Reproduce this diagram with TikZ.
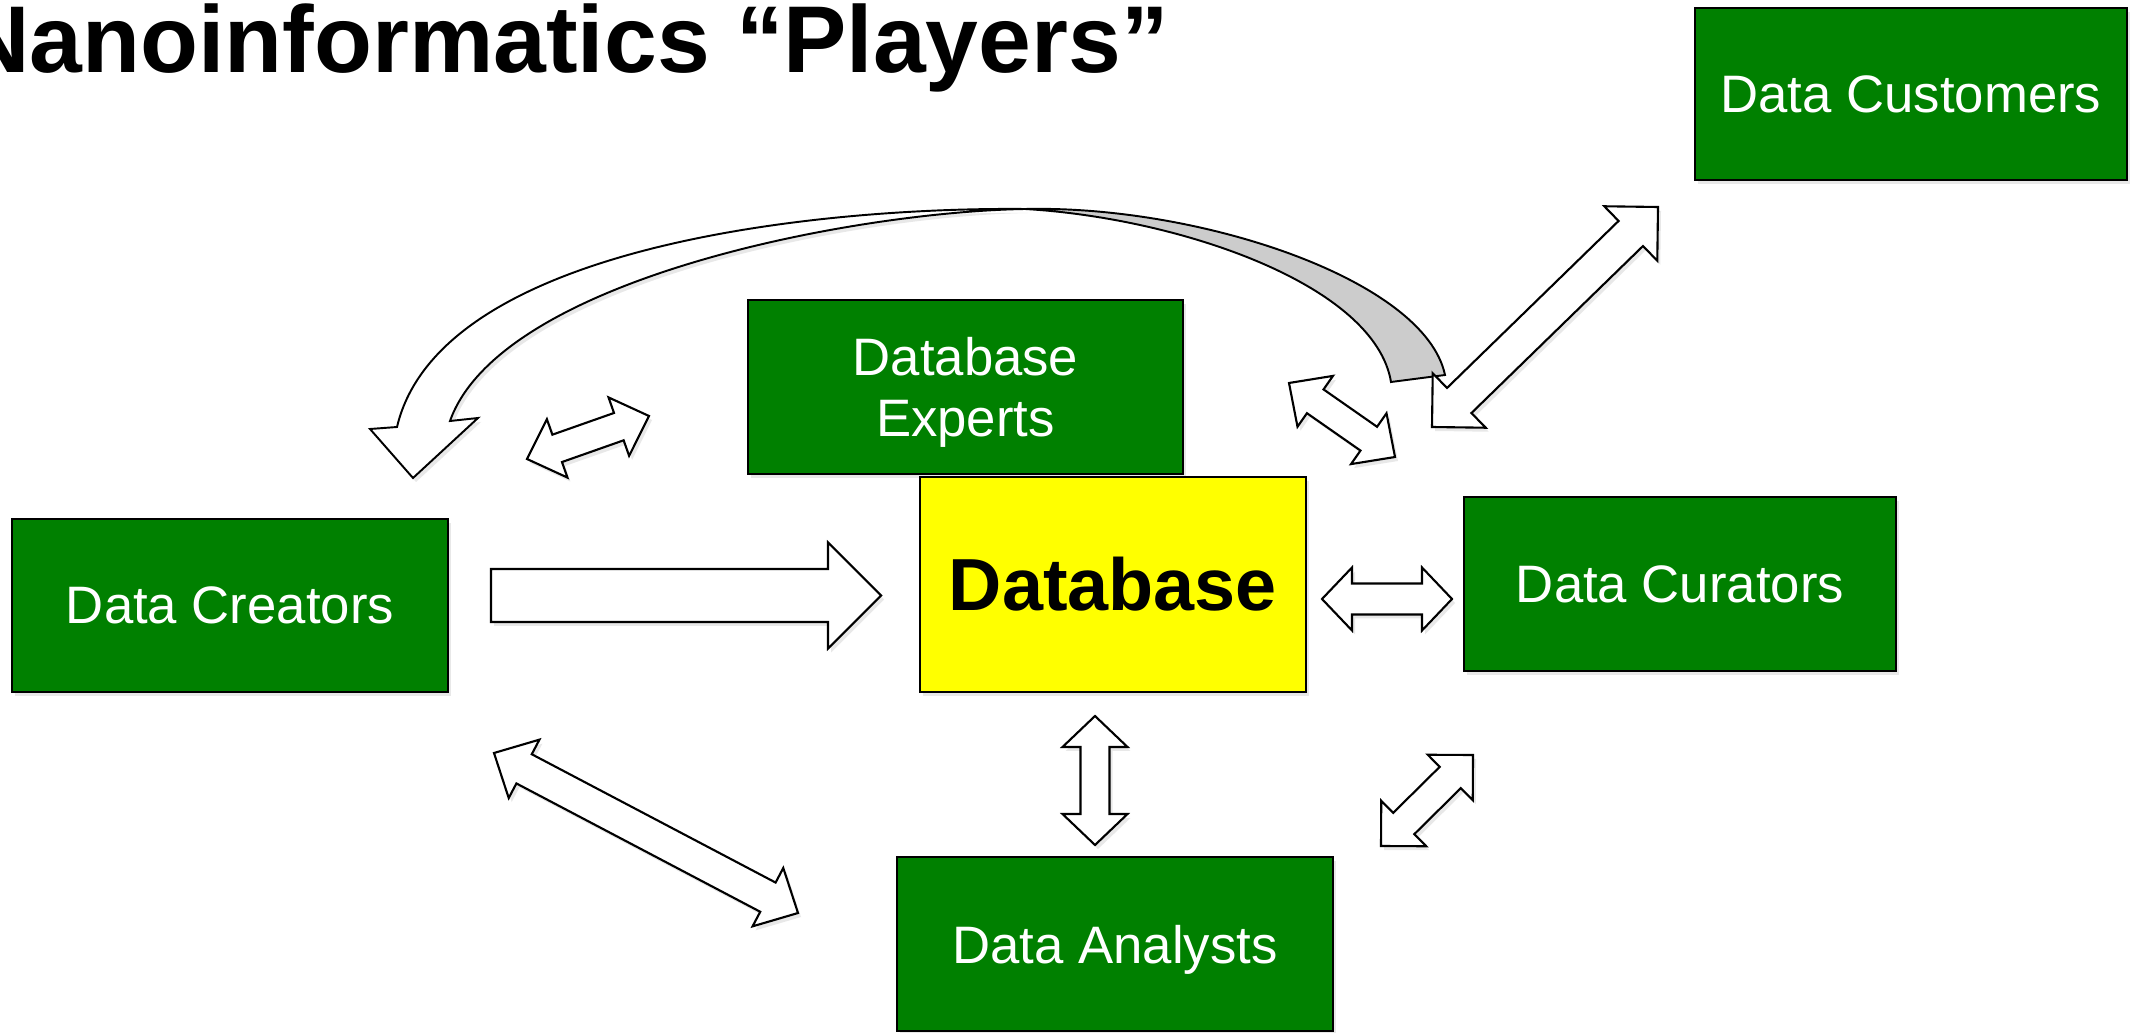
\documentclass[tikz,border=0pt]{standalone}
\usepackage{fontspec}
\setmainfont{Liberation Sans}
\usetikzlibrary{calc,shadows}
\definecolor{boxgreen}{RGB}{0,128,0}
\definecolor{boxyellow}{RGB}{255,255,0}
\definecolor{curvegray}{RGB}{204,204,204}
\tikzset{
  softshadow/.style={drop shadow={shadow xshift=0.06cm, shadow yshift=-0.08cm, opacity=0.18}},
  gbox/.style={draw=black, line width=1.3pt, fill=boxgreen, text=white, align=center,
    font=\fontsize{30}{35}\selectfont, inner sep=0pt, softshadow},
  ybox/.style={draw=black, line width=1.3pt, fill=boxyellow, text=black, align=center,
    font=\fontsize{42}{50}\selectfont\bfseries, inner sep=0pt, softshadow},
  blockarrow/.style={draw=black, line width=1.2pt, fill=white, line join=miter, softshadow},
  curvefront/.style={draw=black, line width=1.1pt, fill=white, line join=miter, softshadow},
  curveback/.style={draw=black, line width=1.1pt, fill=curvegray, line join=miter},
}
% #1 end A, #2 end B, #3 shaft half width, #4 head half width, #5 head length
\newcommand\blockdbl[5]{%
  \path ($(#1)!#5!(#2)$) coordinate (hA) ($(#2)!#5!(#1)$) coordinate (hB);
  \draw[blockarrow] (#1) -- ($(hA)!#4!90:(#2)$) -- ($(hA)!#3!90:(#2)$)
    -- ($(hB)!#3!-90:(#1)$) -- ($(hB)!#4!-90:(#1)$) -- (#2)
    -- ($(hB)!#4!90:(#1)$) -- ($(hB)!#3!90:(#1)$)
    -- ($(hA)!#3!-90:(#2)$) -- ($(hA)!#4!-90:(#2)$) -- cycle;
}
% #1 tail, #2 tip
\newcommand\blocksgl[5]{%
  \path ($(#2)!#5!(#1)$) coordinate (hB);
  \draw[blockarrow] ($(#1)!#3!-90:(#2)$) -- ($(hB)!#3!90:(#1)$) -- ($(hB)!#4!90:(#1)$)
    -- (#2) -- ($(hB)!#4!-90:(#1)$) -- ($(hB)!#3!-90:(#1)$) -- ($(#1)!#3!90:(#2)$) -- cycle;
}
\begin{document}
\begin{tikzpicture}[x=0.02cm, y=-0.02cm]
\useasboundingbox (0,0) rectangle (2137,1033);
\fill[white] (0,0) rectangle (2137,1033);

% title
\node[anchor=base east, inner sep=0pt, font=\fontsize{54}{60}\selectfont\bfseries] (title)
  at (1169,73) {Nanoinformatics “Players”};

% boxes
\node[gbox, minimum width=8.64cm, minimum height=3.44cm] (cust)  at (1911,94)   {Data Customers};
\node[gbox, minimum width=8.70cm, minimum height=3.48cm] (dbexp) at (965.5,387) {\rule{0pt}{0.97cm}Database\\Experts};
\node[ybox, minimum width=7.72cm, minimum height=4.30cm] (db)    at (1113,584.5){Database};
\node[gbox, minimum width=8.72cm, minimum height=3.46cm] (creat) at (230,605.5) {Data Creators};
\node[gbox, minimum width=8.64cm, minimum height=3.48cm] (cur)   at (1680,584)  {Data Curators};
\node[gbox, minimum width=8.72cm, minimum height=3.48cm, text depth=0pt] (anal) at (1115,944) {Data Analysts};

% curved arrow (Data Curators back to Data Creators)
\coordinate (cM)  at (1025,209);
\coordinate (cTo) at (1445,375);
\coordinate (cTi) at (1391,382);
\coordinate (cHo) at (397,427);
\coordinate (cHi) at (450,421);
\coordinate (cBl) at (370,429);
\coordinate (cBr) at (478,418);
\coordinate (cTip) at (413,478);
\draw[curveback] (cM) .. controls (1200,205) and (1425,280) .. (cTo) -- (cTi)
  .. controls (1375,285) and (1180,218) .. (cM) -- cycle;
\draw[curvefront] (cM) .. controls (820,207) and (440,245) .. (cHo) -- (cBl) -- (cTip)
  -- (cBr) -- (cHi) .. controls (500,280) and (850,212) .. (cM) -- cycle;

% arrow end points
\coordinate (a1s) at (491,595.5);  \coordinate (a1e) at (881,595.5);
\coordinate (a2s) at (1322,599);   \coordinate (a2e) at (1452,599);
\coordinate (a3s) at (1095,716);   \coordinate (a3e) at (1095,845);
\coordinate (a4s) at (1381,846);   \coordinate (a4e) at (1473,755);
\coordinate (a5s) at (494,753);    \coordinate (a5e) at (798,913);
\coordinate (a6s) at (527,459);    \coordinate (a6e) at (649,416);
\coordinate (a7s) at (1289,383);   \coordinate (a7e) at (1395,457);
\coordinate (a8s) at (1432,427);   \coordinate (a8e) at (1658,207);

\blocksgl{a1s}{a1e}{0.53cm}{1.06cm}{1.06cm}
\blockdbl{a2s}{a2e}{0.31cm}{0.63cm}{0.60cm}
\blockdbl{a3s}{a3e}{0.29cm}{0.65cm}{0.62cm}
\blockdbl{a4s}{a4e}{0.30cm}{0.64cm}{0.64cm}
\blockdbl{a5s}{a5e}{0.33cm}{0.66cm}{0.68cm}
\blockdbl{a6s}{a6e}{0.29cm}{0.62cm}{0.64cm}
\blockdbl{a7s}{a7e}{0.29cm}{0.62cm}{0.64cm}
\blockdbl{a8s}{a8e}{0.35cm}{0.76cm}{0.76cm}
\end{tikzpicture}
\end{document}
